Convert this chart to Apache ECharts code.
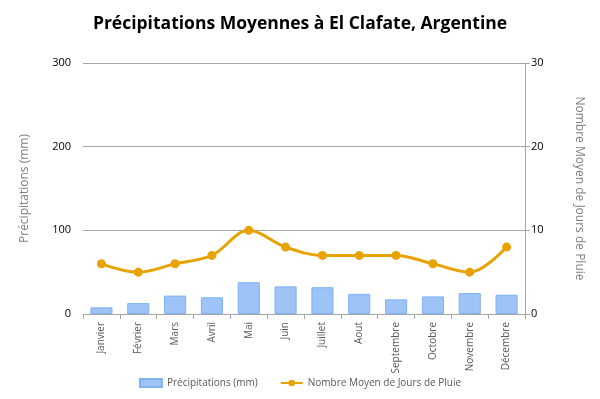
<!DOCTYPE html>
<html><head><meta charset="utf-8">
<script src="https://cdn.jsdelivr.net/npm/echarts@6/dist/echarts.min.js"></script>
<style>html,body{margin:0;padding:0;background:#fff}#c{width:600px;height:399px}</style>
</head><body><div id="c"></div>
<script>
const categories = ['Janvier','Février','Mars','Avril','Mai','Juin','Juillet','Aout','Septembre','Octobre','Novembre','Décembre'];
const precipitations = [8, 13, 22, 20, 38, 33, 32, 24, 17.5, 21, 25, 23];
const joursPluie = [6, 5, 6, 7, 10, 8, 7, 7, 7, 6, 5, 8];
const FONT = '"Open Sans", "DejaVu Sans", sans-serif';
const chart = echarts.init(document.getElementById('c'));
chart.setOption({
  animation: false,
  title: {
    text: 'Précipitations Moyennes à El Clafate, Argentine',
    left: 'center', top: 10,
    textStyle: {fontFamily: FONT, fontSize: 17.5, fontWeight: 'bold', color: '#000'}
  },
  legend: {
    bottom: 6, left: 'center', itemGap: 22,
    textStyle: {fontFamily: FONT, fontSize: 10, color: '#595959'},
    data: [
      {name: 'Précipitations (mm)', icon: 'rect', itemStyle: {color: '#9DC3F7'}},
      {name: 'Nombre Moyen de Jours de Pluie'}
    ],
    itemWidth: 22, itemHeight: 8
  },
  grid: {left: 83, right: 75, top: 63, bottom: 85},
  xAxis: {
    type: 'category', data: categories,
    axisLine: {lineStyle: {color: '#a6a6a6'}},
    axisTick: {show: true, alignWithLabel: false, length: 5, lineStyle: {color: '#a6a6a6'}},
    axisLabel: {rotate: 90, fontFamily: FONT, fontSize: 10, color: '#595959', margin: 8}
  },
  yAxis: [
    {
      type: 'value', min: 0, max: 300, interval: 100,
      name: 'Précipitations (mm)', nameLocation: 'middle', nameGap: 52, nameRotate: 90,
      nameTextStyle: {fontFamily: FONT, fontSize: 12, color: '#7f7f7f'},
      axisLine: {show: false},
      axisTick: {show: false},
      splitLine: {lineStyle: {color: '#a6a6a6'}},
      axisLabel: {fontFamily: FONT, fontSize: 11, color: '#000', margin: 12}
    },
    {
      type: 'value', min: 0, max: 30, interval: 10,
      name: 'Nombre Moyen de Jours de Pluie', nameLocation: 'middle', nameGap: 48, nameRotate: -90,
      nameTextStyle: {fontFamily: FONT, fontSize: 12, color: '#7f7f7f'},
      axisLine: {show: true, lineStyle: {color: '#a6a6a6'}},
      axisTick: {show: true, length: 5, lineStyle: {color: '#a6a6a6'}},
      splitLine: {show: false},
      axisLabel: {fontFamily: FONT, fontSize: 11, color: '#000', margin: 6}
    }
  ],
  series: [
    {
      name: 'Précipitations (mm)', type: 'bar', yAxisIndex: 0, data: precipitations,
      barWidth: '60%',
      itemStyle: {color: '#9DC3F7', borderColor: '#7EB2F2', borderWidth: 1}
    },
    {
      name: 'Nombre Moyen de Jours de Pluie', type: 'line', yAxisIndex: 1, data: joursPluie,
      smooth: 0.35, symbol: 'circle', symbolSize: 9,
      lineStyle: {color: '#E8A202', width: 3},
      itemStyle: {color: '#E8A202'}
    }
  ]
});
</script>
</body></html>
